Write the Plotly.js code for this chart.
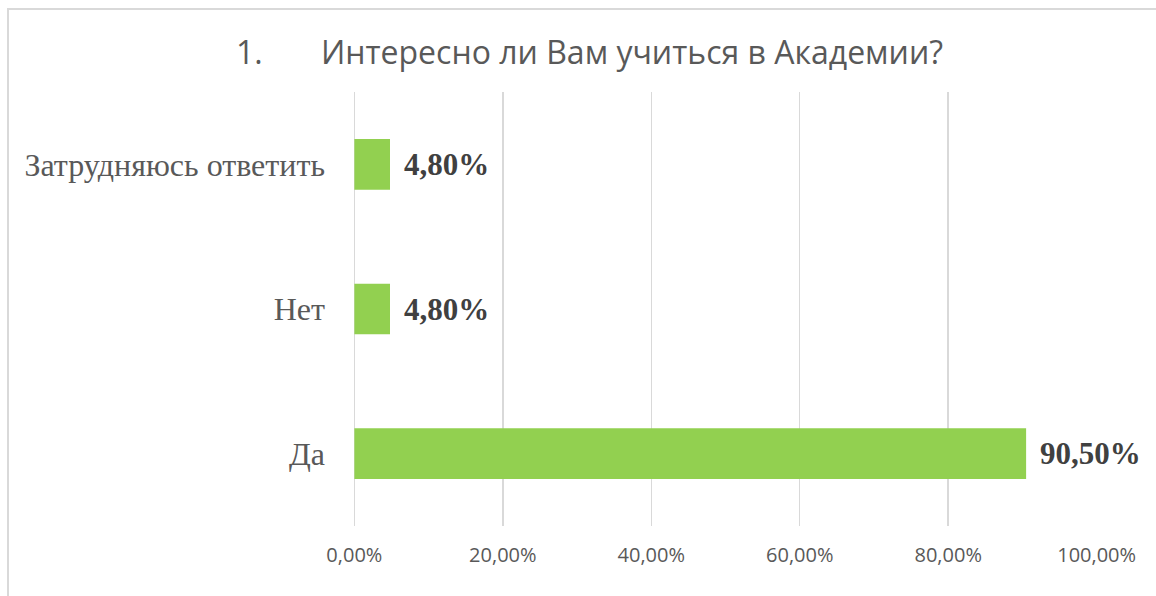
<!DOCTYPE html>
<html>
<head>
<meta charset="utf-8">
<script src="https://cdn.plot.ly/plotly-3.0.1.min.js"></script>
<style>
  body { margin: 0; padding: 0; background: #fff; }
  #wrap { position: relative; width: 1156px; height: 596px; }
  #chart { width: 1156px; height: 596px; }
  #frame { position: absolute; left: 7px; top: 8px; right: -2px; bottom: -2px;
           border-top: 2px solid #d9d9d9; border-left: 2px solid #d9d9d9; pointer-events: none; }
</style>
</head>
<body>
<div id="wrap">
  <div id="chart"></div>
  <div id="frame"></div>
</div>
<script>
const categories = ["Да", "Нет", "Затрудняюсь ответить"];
const values = [90.5, 4.8, 4.8];
const valueLabels = ["90,50%", "4,80%", "4,80%"];
const xTickValues = [0, 20, 40, 60, 80, 100];
const xTickLabels = ["0,00%", "20,00%", "40,00%", "60,00%", "80,00%", "100,00%"];
const titleText = "1.\u00A0\u00A0\u00A0\u00A0\u00A0\u00A0\u00A0Интересно ли Вам учиться в Академии?";

const trace = {
  type: "bar",
  orientation: "h",
  x: values,
  y: categories,
  marker: { color: "#92d050" },
  width: 0.35,
  hoverinfo: "skip"
};

const annotations = categories.map((c, i) => ({
  x: values[i],
  y: c,
  xref: "x",
  yref: "y",
  text: valueLabels[i],
  showarrow: false,
  xanchor: "left",
  yanchor: "middle",
  xshift: 12,
  font: { family: "Liberation Serif, Times New Roman, serif", size: 31, color: "#404040", weight: "bold" }
}));

const layout = {
  width: 1156,
  height: 596,
  margin: { l: 354, r: 59, t: 92, b: 70 },
  paper_bgcolor: "#ffffff",
  plot_bgcolor: "#ffffff",
  showlegend: false,
  title: {
    text: titleText,
    x: 0.51,
    xanchor: "center",
    y: 0.912,
    yanchor: "middle",
    font: { family: "Open Sans, Noto Sans, sans-serif", size: 32, color: "#595959" }
  },
  xaxis: {
    range: [-0.05, 100.05],
    tickvals: xTickValues,
    ticktext: xTickLabels,
    showgrid: true,
    gridcolor: "#d9d9d9",
    gridwidth: 1.5,
    zeroline: true,
    zerolinecolor: "#d9d9d9",
    zerolinewidth: 1.5,
    showline: false,
    ticks: "",
    ticklabelstandoff: 15,
    tickfont: { family: "Open Sans, Noto Sans, sans-serif", size: 20, color: "#595959" },
    fixedrange: true
  },
  yaxis: {
    categoryorder: "array",
    categoryarray: categories,
    showgrid: false,
    zeroline: false,
    showline: false,
    ticks: "",
    ticklabelstandoff: 28,
    tickfont: { family: "Liberation Serif, Times New Roman, serif", size: 32, color: "#595959" },
    fixedrange: true
  },
  annotations: annotations
};

Plotly.newPlot("chart", [trace], layout, { displayModeBar: false, staticPlot: true });
</script>
</body>
</html>
